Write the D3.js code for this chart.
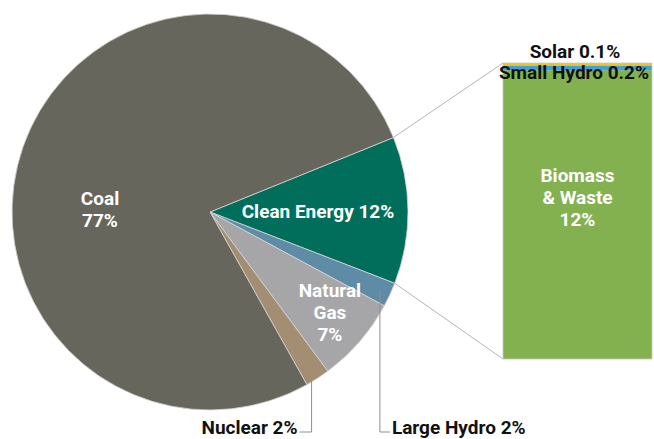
<!DOCTYPE html>
<html>
<head>
<meta charset="utf-8">
<script src="https://cdn.jsdelivr.net/npm/d3@7"></script>
<style>
  body { margin: 0; background: #fff; }
  svg { display: block; font-family: Roboto, sans-serif; font-weight: 700; }
</style>
</head>
<body>
<svg id="chart"></svg>
<script>
// pie slices, clockwise from the top edge of the clean energy slice
const pieLabels = ['Clean Energy', 'Large Hydro', 'Natural Gas', 'Nuclear', 'Coal']
const pieValues = [12, 2, 7, 2, 77]
const pieColors = ['#006e5a', '#5e8ba6', '#a6a6a8', '#a38e73', '#67665c']

// breakdown of clean energy, bottom to top
const barLabels = ['Biomass & Waste', 'Small Hydro', 'Solar']
const barValues = [12, 0.2, 0.1]
const barColors = ['#84b150', '#3fa0dc', '#f0c419']

const width = 654
const height = 439
const cx = 210, cy = 212, r = 198

const svg = d3.select('#chart').attr('width', width).attr('height', height)

const startA = 67.9 * Math.PI / 180
const pie = d3.pie().sort(null).startAngle(startA).endAngle(startA + 2 * Math.PI)
const slices = pie(pieValues)
  .map((s, i) => Object.assign(s, { label: pieLabels[i], color: pieColors[i] }))

const arc = d3.arc().innerRadius(0).outerRadius(r)
const g = svg.append('g').attr('transform', `translate(${cx},${cy})`)

g.selectAll('path')
  .data(slices)
  .enter().append('path')
  .attr('d', arc)
  .attr('fill', d => d.color)
  .attr('stroke', '#d6d6d6')
  .attr('stroke-width', 0.8)

// bar on the right
const barX = 503, barW = 149
const y = d3.scaleLinear().domain([0, d3.sum(barValues)]).range([359, 63])
let acc = 0
const stack = barValues.map((v, i) => {
  const s = { label: barLabels[i], value: v, color: barColors[i], y0: acc, y1: acc + v }
  acc += v
  return s
})
svg.append('g').selectAll('rect')
  .data(stack)
  .enter().append('rect')
  .attr('x', barX)
  .attr('width', barW)
  .attr('y', d => y(d.y1))
  .attr('height', d => y(d.y0) - y(d.y1))
  .attr('fill', d => d.color)
svg.append('rect')
  .attr('x', barX).attr('y', y(acc))
  .attr('width', barW).attr('height', y(0) - y(acc))
  .attr('fill', 'none').attr('stroke', '#c8c8c8').attr('stroke-width', 0.8)

// connector lines from clean energy slice to the bar
const clean = slices[0]
const edge = a => [cx + Math.sin(a) * r, cy - Math.cos(a) * r]
const p0 = edge(clean.startAngle)
const p1 = edge(clean.endAngle)
svg.append('line')
  .attr('x1', p0[0]).attr('y1', p0[1]).attr('x2', barX).attr('y2', y(acc))
  .attr('stroke', '#b5b5b5').attr('stroke-width', 1)
svg.append('line')
  .attr('x1', p1[0]).attr('y1', p1[1]).attr('x2', barX).attr('y2', y(0))
  .attr('stroke', '#b5b5b5').attr('stroke-width', 1)

// labels
const fs = 19
function lines(sel, x, yc, arr, color, lh) {
  const t = sel.append('text')
    .attr('x', x).attr('text-anchor', 'middle')
    .attr('fill', color).attr('font-size', fs)
  arr.forEach((s, i) => {
    t.append('tspan').attr('x', x)
      .attr('y', yc + (i - (arr.length - 1) / 2) * lh)
      .attr('dy', '0.35em').text(s)
  })
}

lines(svg, 100, 209, ['Coal', '77%'], '#fff', 22)
const cleanC = d3.arc().innerRadius(108).outerRadius(108).centroid(clean)
lines(svg, cx + cleanC[0], cy + cleanC[1], ['Clean Energy 12%'], '#fff', 22)
const gasC = d3.arc().innerRadius(156).outerRadius(156).centroid(slices[2])
lines(svg, cx + gasC[0] + 2, cy + gasC[1] - 2, ['Natural', 'Gas', '7%'], '#fff', 22)

// bar labels
lines(svg, barX + barW / 2, 197, ['Biomass', '& Waste', '12%'], '#fff', 22)
lines(svg, 575, 51, ['Solar 0.1%'], '#111', 20)
lines(svg, 574, 72, ['Small Hydro 0.2%'], '#111', 20)

// leader labels below the pie
const leadY = 432
const leadArc = d3.arc().innerRadius(187).outerRadius(187)
const nuc = leadArc.centroid(slices[3])
const lh = leadArc.centroid(slices[1])
const path = d3.path()
path.moveTo(cx + nuc[0], cy + nuc[1]); path.lineTo(cx + nuc[0], leadY); path.lineTo(cx + nuc[0] - 12, leadY)
path.moveTo(cx + lh[0], cy + lh[1]); path.lineTo(cx + lh[0], leadY); path.lineTo(cx + lh[0] + 10, leadY)
svg.append('path').attr('d', path.toString())
  .attr('fill', 'none').attr('stroke', '#8f8f8f').attr('stroke-width', 1)

svg.append('text').attr('x', cx + nuc[0] - 14).attr('y', 434)
  .attr('text-anchor', 'end').attr('font-size', fs).attr('fill', '#111')
  .text('Nuclear 2%')
svg.append('text').attr('x', cx + lh[0] + 12).attr('y', 434)
  .attr('font-size', fs).attr('fill', '#111')
  .text('Large Hydro 2%')
</script>
</body>
</html>
